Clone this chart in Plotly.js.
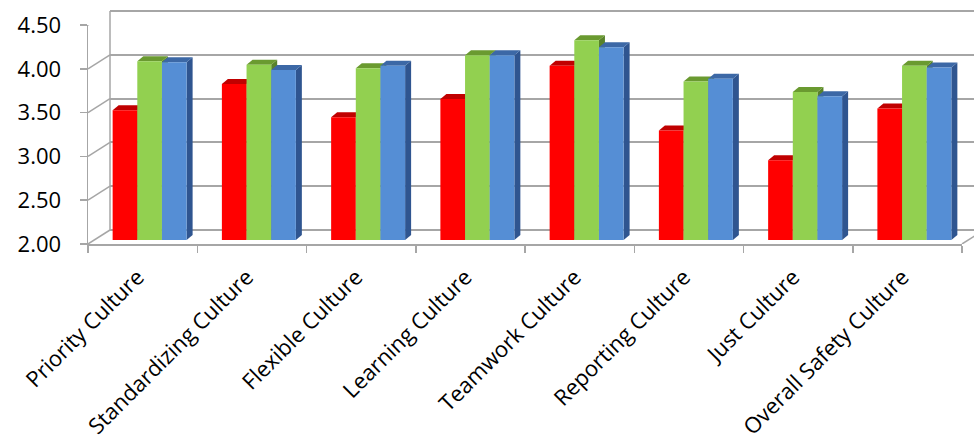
<!DOCTYPE html>
<html>
<head>
<meta charset="utf-8">
<script src="https://cdn.plot.ly/plotly-3.0.1.min.js"></script>
<style>html,body{margin:0;padding:0;background:#fff;}#chart{width:974px;height:446px;}</style>
</head>
<body>
<div id="chart"></div>
<script>
// ---- data ----
const categories = ["Priority Culture","Standardizing Culture","Flexible Culture","Learning Culture","Teamwork Culture","Reporting Culture","Just Culture","Overall Safety Culture"];
const seriesRed   = [3.48, 3.78, 3.40, 3.61, 3.99, 3.25, 2.91, 3.50];
const seriesGreen = [4.04, 4.00, 3.96, 4.11, 4.28, 3.81, 3.69, 3.99];
const seriesBlue  = [4.03, 3.94, 3.99, 4.11, 4.20, 3.84, 3.64, 3.97];
const yTicks = [2.00, 2.50, 3.00, 3.50, 4.00, 4.50];
const yTickLabels = ["2.00","2.50","3.00","3.50","4.00","4.50"];

// ---- styling / geometry ----
const W = 974, H = 446;
const frontL = 88, frontR = 962, frontBot = 244, frontTop = 25;
const barShiftX = 7, barShiftY = 4;
const backShiftX = 22, backShiftY = 14;
const grid = '#a6a6a6';
const faceColors = ['#ff0000', '#92d050', '#558ed5'];
const topColors  = ['#c00000', '#6a9a30', '#3c68a6'];
const sideColors = ['#a00000', '#58822a', '#2f5590'];
const yMin = yTicks[0], yMax = yTicks[yTicks.length-1];
const pxPerCat = (frontR - frontL) / categories.length;
const pxPerUnit = (frontBot - frontTop) / (yMax - yMin);
const depthX = 6 / pxPerCat, depthY = 5 / pxPerUnit;
const bargap = 0.323;
const barW = (1 - bargap) / 3;
const pad = 2;
const padU = pad / pxPerUnit;

const fx = p => p / W;
const fy = p => (H - p) / H;

const idx = categories.map((c, i) => i);
const series = [seriesRed, seriesGreen, seriesBlue];

const traces = [];
traces.push({type:'scatter', x: [0, 1], y: [yMin, yMax], xaxis:'x', yaxis:'y',
  mode:'markers', marker:{opacity:0}, hoverinfo:'skip', showlegend:false});
traces.push({type:'scatter', x: categories, y: categories.map(() => yMin), xaxis:'x2', yaxis:'y2',
  mode:'markers', marker:{opacity:0}, hoverinfo:'skip', showlegend:false});
series.forEach((s, k) => {
  traces.push({type:'bar', x: idx, y: s, base: 0, xaxis:'x3', yaxis:'y3',
    marker:{color: faceColors[k], line:{width:0}}, name: 'Series ' + (k+1),
    hovertext: categories, showlegend:false});
});

const shapes = [];
idx.forEach(i => {
  series.forEach((s, k) => {
    const xc = i + (k - 1) * barW;
    const x0 = xc - barW / 2, x1 = xc + barW / 2, v = s[i], b = yMin;
    shapes.push({type:'path', xref:'x3', yref:'y3', layer:'between',
      path:`M${x1},${b} L${x1},${v} L${x1+depthX},${v+depthY} L${x1+depthX},${b+depthY} Z`,
      fillcolor: sideColors[k], line:{width:0}});
    shapes.push({type:'path', xref:'x3', yref:'y3', layer:'between',
      path:`M${x0},${v} L${x1},${v} L${x1+depthX},${v+depthY} L${x0+depthX},${v+depthY} Z`,
      fillcolor: topColors[k], line:{width:0}});
  });
});
const backDY = backShiftY / pxPerUnit;
yTicks.forEach(t => {
  shapes.push({type:'line', xref:'paper', yref:'y2', x0: fx(frontL), x1: fx(frontL + backShiftX),
    y0: t, y1: t + backDY, line:{color: grid, width: 1.5}, layer:'above'});
});
shapes.push({type:'line', xref:'paper', yref:'y2', x0: fx(frontR), x1: fx(frontR + backShiftX),
  y0: yMin, y1: yMin + backDY, line:{color: grid, width: 1.5}});
shapes.push({type:'line', xref:'paper', yref:'y', x0: fx(frontL + backShiftX), x1: fx(frontL + backShiftX),
  y0: yMin, y1: yMax, line:{color: grid, width: 1.5}});

const font = {family:'"Open Sans", "DejaVu Sans", sans-serif', size: 22, color:'#000'};

const layout = {
  width: W, height: H,
  margin:{l:0, r:0, t:0, b:0},
  paper_bgcolor:'#ffffff', plot_bgcolor:'rgba(0,0,0,0)',
  showlegend:false,
  barmode:'group', bargap: bargap, bargroupgap: 0,
  font: font,
  xaxis:{domain:[fx(frontL + backShiftX), 1], range:[0,1], showgrid:false, zeroline:false,
    showticklabels:false, ticks:'', showline:false, fixedrange:true},
  yaxis:{domain:[fy(frontBot - backShiftY + pad), fy(frontTop - backShiftY - pad)], range:[yMin - padU, yMax + padU],
    tickvals: yTicks, showgrid:true, gridcolor: grid, gridwidth: 2, zeroline:false,
    showticklabels:false, ticks:'', showline:false, fixedrange:true},
  xaxis2:{domain:[fx(frontL), fx(frontR)], anchor:'y2', type:'category', categoryarray: categories,
    range:[-0.5, categories.length - 0.5], tickson:'boundaries', ticks:'outside', ticklen: 7,
    tickcolor: grid, tickwidth: 1.5, showline:true, linecolor: grid, linewidth: 1.5, showgrid:false,
    tickangle: -45, tickfont: font, ticklabelstandoff: 10, ticklabelshift: -5, fixedrange:true},
  yaxis2:{domain:[fy(frontBot), fy(frontTop)], anchor:'x2', range:[yMin, yMax],
    tickvals: yTicks, ticktext: yTickLabels, ticks:'outside', ticklen: 7, tickcolor: grid, tickwidth: 1.5,
    showline:true, linecolor: grid, linewidth: 1.5, showgrid:false, zeroline:false,
    ticklabelstandoff: 14, tickfont: font, fixedrange:true},
  xaxis3:{domain:[fx(frontL + barShiftX), fx(frontR + barShiftX)], anchor:'y3', range:[-0.5, categories.length - 0.5],
    visible:false, fixedrange:true},
  yaxis3:{domain:[fy(frontBot - barShiftY), fy(frontTop - barShiftY)], anchor:'x3',
    range:[yMin, yMax], visible:false, fixedrange:true},
  shapes: shapes
};

Plotly.newPlot('chart', traces, layout, {displayModeBar:false, staticPlot:true});
</script>
</body>
</html>
